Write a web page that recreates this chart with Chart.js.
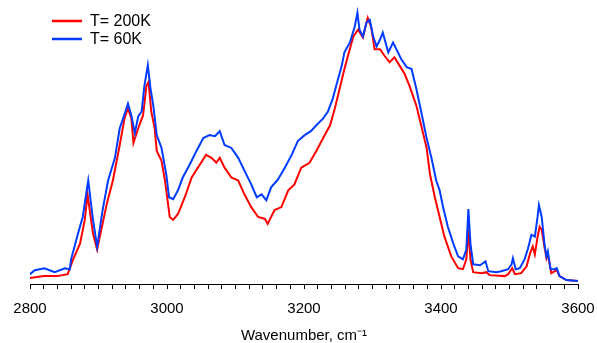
<!DOCTYPE html>
<html>
<head>
<meta charset="utf-8">
<script src="https://cdn.jsdelivr.net/npm/chart.js@4/dist/chart.umd.min.js"></script>
<style>
  html, body { margin: 0; padding: 0; background: #fff; }
  #wrap { width: 597px; height: 343px; }
</style>
</head>
<body>
<div id="wrap"><canvas id="spectrum"></canvas></div>
<script>
// wavenumber (cm-1) and intensity (arb. units)
const wnBlue = [2800, 2807, 2821, 2836, 2851, 2858, 2860, 2865, 2870, 2877, 2885, 2892, 2898, 2906, 2914, 2924, 2931, 2936, 2943, 2948, 2953, 2958, 2963, 2967, 2972, 2976, 2980, 2985, 2992, 2999, 3003, 3009, 3016, 3023, 3033, 3043, 3053, 3062, 3070, 3077, 3084, 3094, 3104, 3113, 3123, 3131, 3138, 3145, 3152, 3162, 3172, 3182, 3191, 3201, 3210, 3218, 3228, 3235, 3242, 3247, 3255, 3259, 3267, 3274, 3278, 3281, 3286, 3291, 3296, 3301, 3306, 3311, 3315, 3323, 3330, 3335, 3342, 3350, 3357, 3364, 3371, 3379, 3386, 3393, 3398, 3403, 3410, 3418, 3425, 3432, 3437, 3440, 3443, 3447, 3457, 3465, 3469, 3481, 3488, 3498, 3503, 3505, 3509, 3515, 3522, 3527, 3532, 3537, 3541, 3543, 3547, 3551, 3554, 3556, 3560, 3566, 3569, 3573, 3583, 3600];
const absBlue = [10, 14, 16, 12, 16, 15, 25, 38, 51, 68, 105, 65, 38, 75, 105, 128, 158, 168, 183, 171, 153, 170, 175, 201, 222, 198, 181, 151, 138, 111, 88, 86, 95, 108, 121, 135, 148, 151, 150, 155, 141, 138, 128, 115, 101, 88, 91, 85, 98, 106, 118, 131, 145, 151, 155, 161, 168, 175, 188, 201, 221, 235, 245, 261, 275, 258, 251, 265, 268, 251, 241, 248, 255, 235, 245, 238, 228, 220, 218, 198, 175, 148, 128, 105, 95, 78, 58, 41, 28, 25, 35, 76, 41, 20, 19, 23, 13, 12, 13, 15, 20, 26, 15, 16, 25, 36, 50, 48, 68, 80, 68, 41, 28, 33, 15, 15, 16, 8, 4, 3];

const wnRed = [2800, 2820, 2840, 2855, 2863, 2873, 2880, 2884, 2892, 2898, 2912, 2921, 2931, 2938, 2943, 2948, 2951, 2958, 2965, 2970, 2973, 2977, 2982, 2985, 2992, 2997, 3004, 3009, 3016, 3026, 3036, 3045, 3057, 3065, 3072, 3077, 3084, 3094, 3104, 3113, 3123, 3133, 3143, 3147, 3157, 3167, 3177, 3186, 3196, 3208, 3218, 3228, 3238, 3245, 3252, 3259, 3264, 3272, 3279, 3286, 3293, 3298, 3303, 3311, 3318, 3325, 3332, 3340, 3347, 3354, 3364, 3371, 3379, 3384, 3391, 3398, 3405, 3415, 3425, 3432, 3437, 3440, 3443, 3447, 3459, 3466, 3471, 3493, 3498, 3504, 3508, 3517, 3525, 3530, 3534, 3537, 3541, 3544, 3547, 3551, 3554, 3556, 3561, 3569, 3573, 3583, 3600];
const absRed = [6, 8, 8, 10, 25, 41, 65, 91, 51, 35, 81, 105, 141, 168, 178, 168, 143, 158, 171, 201, 205, 175, 158, 135, 125, 105, 68, 65, 71, 88, 108, 118, 131, 128, 123, 128, 118, 108, 105, 91, 78, 68, 66, 61, 75, 78, 95, 101, 118, 123, 135, 148, 161, 178, 198, 218, 231, 251, 258, 250, 270, 261, 238, 238, 231, 225, 230, 221, 213, 201, 181, 161, 138, 111, 88, 68, 48, 28, 16, 15, 25, 55, 25, 12, 11, 12, 9, 8, 10, 16, 10, 11, 18, 31, 38, 30, 48, 58, 55, 38, 26, 30, 11, 14, 8, 4, 3];

const seriesLabels = ['T= 200K', 'T= 60K'];
const xTickLabels = [2800, 3000, 3200, 3400, 3600];

const RED = 'rgb(255, 0, 0)';
const BLUE = 'rgb(0, 60, 255)';
const FONT = "'Liberation Sans', Arial, sans-serif";

const toPoints = (xs, ys) => xs.map((x, i) => ({ x: x, y: ys[i] }));

// legend drawn inside the plot, top left
const insideLegend = {
    id: 'insideLegend',
    afterDraw(chart) {
        const ctx = chart.ctx;
        const items = [
            { text: seriesLabels[0], color: RED, y: 21 },
            { text: seriesLabels[1], color: BLUE, y: 39 }
        ];
        ctx.save();
        ctx.font = '16px ' + FONT;
        ctx.textBaseline = 'middle';
        items.forEach(it => {
            ctx.strokeStyle = it.color;
            ctx.lineWidth = 2.5;
            ctx.beginPath();
            ctx.moveTo(52, it.y);
            ctx.lineTo(82, it.y);
            ctx.stroke();
            ctx.fillStyle = '#000';
            ctx.fillText(it.text, 90, it.y + 1);
        });
        ctx.restore();
    }
};

new Chart(document.getElementById('spectrum'), {
    type: 'line',
    data: {
        datasets: [
            {
                label: seriesLabels[1],
                data: toPoints(wnBlue, absBlue),
                borderColor: BLUE,
                borderWidth: 2,
                pointRadius: 0,
                tension: 0
            },
            {
                label: seriesLabels[0],
                data: toPoints(wnRed, absRed),
                borderColor: RED,
                borderWidth: 2,
                pointRadius: 0,
                tension: 0
            }
        ]
    },
    options: {
        responsive: true,
        maintainAspectRatio: false,
        animation: false,
        layout: { padding: { left: 30, right: 19, top: 5, bottom: 0 } },
        plugins: {
            legend: { display: false },
            tooltip: { enabled: false }
        },
        scales: {
            x: {
                type: 'linear',
                min: 2800,
                max: 3600,
                // keep the plot edges where the padding puts them
                afterFit: scale => { scale.paddingLeft = 0; scale.paddingRight = 0; },
                border: { color: '#000', width: 1 },
                grid: { drawOnChartArea: false, drawTicks: true, tickLength: 5, color: '#000' },
                ticks: {
                    stepSize: 20,
                    autoSkip: false,
                    maxRotation: 0,
                    padding: 12,
                    color: '#000',
                    font: { family: FONT, size: 15, lineHeight: 1 },
                    callback: v => xTickLabels.includes(v) ? String(v) : ''
                },
                title: {
                    display: true,
                    text: 'Wavenumber, cm\u207B\u00B9',
                    color: '#000',
                    font: { family: FONT, size: 15 },
                    padding: { top: -1, bottom: -2 }
                }
            },
            y: {
                display: false,
                min: 0,
                max: 283
            }
        }
    },
    plugins: [insideLegend]
});
</script>
</body>
</html>
